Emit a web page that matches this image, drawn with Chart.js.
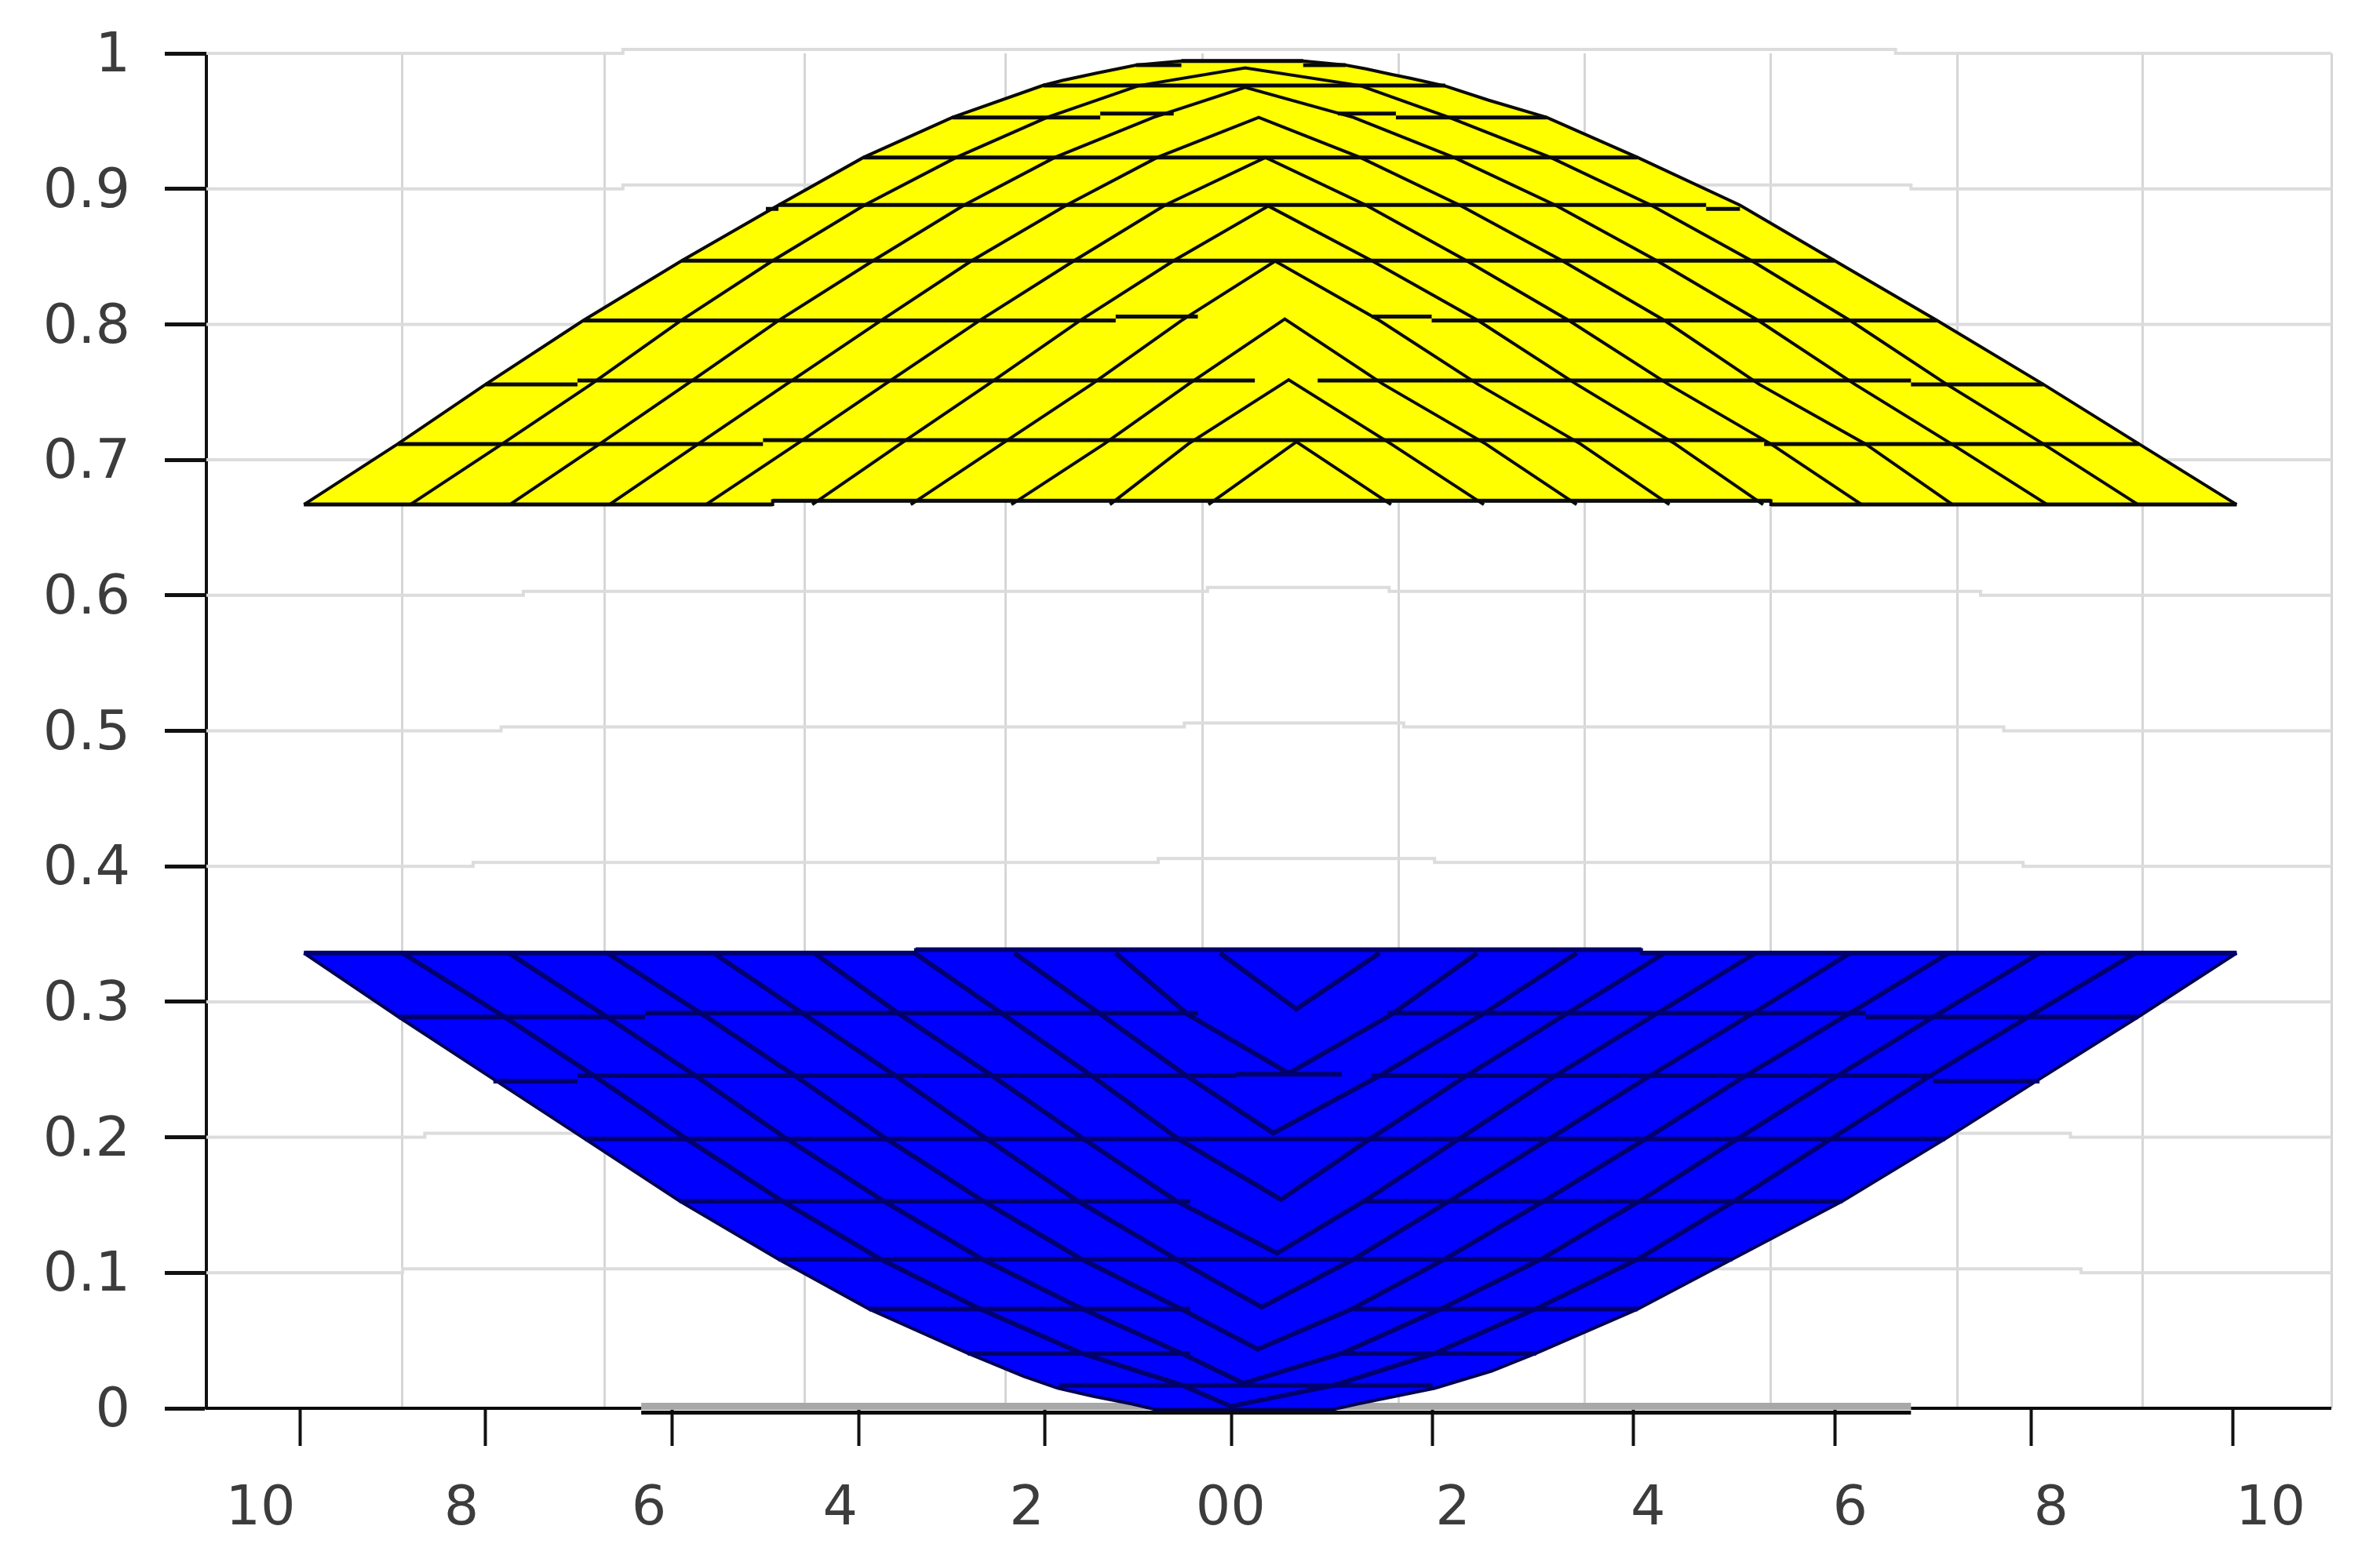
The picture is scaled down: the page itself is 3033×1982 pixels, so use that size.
<!DOCTYPE html>
<html>
<head>
<meta charset="utf-8">
<title>Surface mesh</title>
<script src="https://cdn.jsdelivr.net/npm/chart.js"></script>
<style>
  html, body { margin: 0; padding: 0; background: #fff; }
  canvas { display: block; }
</style>
</head>
<body>
<canvas id="chart" width="3033" height="1982"></canvas>
<script>
// Axes
const yTicks = [0, 0.1, 0.2, 0.3, 0.4, 0.5, 0.6, 0.7, 0.8, 0.9, 1];
const yTickLabels = ['0', '0.1', '0.2', '0.3', '0.4', '0.5', '0.6', '0.7', '0.8', '0.9', '1'];
const xGrid = [-8.98, -6.89, -4.82, -2.74, -0.70, 1.33, 3.25, 5.18, 7.11, 9.03, 10.98];
const xTicks = [-10.04, -8.12, -6.19, -4.26, -2.33, -0.40, 1.68, 3.76, 5.84, 7.87, 9.96];
const xLabelPos = [-10.45, -8.37, -6.43, -4.45, -2.52, -0.41, 1.89, 3.91, 6.0, 8.08, 10.35];
const xLabels = ['10', '8', '6', '4', '2', '00', '2', '4', '6', '8', '10'];

// Horizontal grid lines step up and back down where the picture is shifted
const gridY = [0.1, 0.2, 0.3, 0.4, 0.5, 0.6, 0.7, 0.8, 0.9, 1];
const gridBreaks = [
    [-8.98, 8.39], [-8.75, 8.28], [],
    [-8.25, -1.16, 1.70, 7.79], [-7.96, -0.89, 1.38, 7.59], [-7.73, -0.65, 1.23, 7.35],
    [], [], [-6.70, 6.63], [-6.70, 6.47],
];

// Yellow surface
const yellowOutline = [
    [-10, 0.667], [-9.03, 0.7117], [-8.12, 0.7557], [-7.11, 0.8028], [-6.09, 0.847], [-5.09, 0.888],
    [-4.21, 0.9232], [-3.29, 0.9527], [-2.35, 0.9764], [-2.15, 0.98], [-1.79, 0.9855], [-1.39, 0.9913],
    [-0.92, 0.9944], [0.34, 0.9944], [0.78, 0.9913], [0.99, 0.9886], [1.25, 0.9845], [1.45, 0.9816],
    [1.81, 0.9759], [2.26, 0.9654], [2.86, 0.9527], [3.80, 0.9232], [4.86, 0.888], [5.84, 0.847],
    [6.90, 0.8028], [8.0, 0.7557], [8.99, 0.7117], [10, 0.667],
];
const yellowBase = [[-10, 0.667], [-5.15, 0.667], [-5.15, 0.6698], [5.18, 0.6698], [5.18, 0.667], [10, 0.667]];
const yellowRows = [0.667, 0.7117, 0.7557, 0.8028, 0.847, 0.888, 0.9232, 0.9527, 0.9762];
// [y, from, to]
const yellowRowLines = [
    [0.667, -10, -5.15], [0.6698, -5.15, 5.18], [0.667, 5.18, 10],
    [0.7117, -9.03, -5.25], [0.7146, -5.25, 5.11], [0.7117, 5.11, 8.99],
    [0.7557, -8.12, -7.17], [0.7586, -7.17, -0.16], [0.7586, 0.49, 6.63], [0.7557, 6.63, 8.0],
    [0.8028, -7.11, -1.60], [0.8057, -1.60, -0.75], [0.8057, 1.05, 1.67], [0.8028, 1.67, 6.90],
    [0.847, -6.09, 5.84],
    [0.8852, -5.22, -5.09], [0.8881, -5.09, 4.51], [0.8852, 4.51, 4.86],
    [0.9232, -4.21, 3.80],
    [0.9527, -3.29, -1.76], [0.9556, -1.76, -1.0], [0.9556, 0.70, 1.30], [0.9527, 1.30, 2.86],
    [0.9762, -2.35, 1.81],
    [0.9913, -1.39, -0.92], [0.9944, -0.92, 0.34], [0.9913, 0.34, 0.78],
];
const yellowLeft = [
    [-0.64],
    [-1.66, -0.85],
    [-2.68, -1.72, -0.85],
    [-3.72, -2.78, -1.85, -0.92],
    [-4.74, -3.83, -2.92, -1.97, -1.0],
    [-5.84, -4.90, -3.99, -3.01, -2.03, -1.09],
    [-6.84, -5.92, -5.01, -4.03, -3.09, -2.11, -1.17],
    [-7.87, -6.94, -6.04, -5.09, -4.11, -3.17, -2.23, -1.21],
    [-8.90, -7.95, -7.03, -6.10, -5.15, -4.20, -3.25, -2.31, -1.36],
];
const yellowRight = [
    [1.25],
    [2.21, 1.25],
    [3.17, 2.23, 1.17],
    [4.13, 3.21, 2.15, 1.13],
    [5.10, 4.19, 3.17, 2.15, 1.05],
    [6.12, 5.18, 4.12, 3.09, 2.03, 0.99],
    [7.06, 6.16, 5.06, 4.08, 3.02, 1.96, 0.93],
    [8.04, 7.05, 6.05, 5.05, 4.0, 2.95, 1.90, 0.86],
    [8.98, 8.0, 7.0, 6.0, 4.98, 3.94, 2.90, 1.85, 0.93],
];
const yellowTips = [
    [0.27, 0.7133], [0.19, 0.7591], [0.15, 0.8039], [0.05, 0.8467], [-0.02, 0.8873],
    [-0.05, 0.9232], [-0.12, 0.9527], [-0.26, 0.9749], [-0.26, 0.9893],
];

// Blue surface
const blueOutline = [
    [-10, 0.336], [-9.02, 0.2888], [-8.04, 0.243], [-7.09, 0.1987], [-6.11, 0.1529], [-5.09, 0.11],
    [-4.15, 0.0732], [-3.13, 0.0406], [-2.55, 0.0235], [-2.2, 0.0148], [-1.84, 0.009], [-1.43, 0.0032],
    [-1.19, -0.0008], [0.65, -0.0008], [0.9, 0.0032], [1.3, 0.009], [1.7, 0.0148], [2.29, 0.0275],
    [2.75, 0.0406], [3.80, 0.0732], [4.78, 0.11], [5.92, 0.1529], [6.98, 0.1987], [7.96, 0.243],
    [8.98, 0.2888], [10, 0.336],
];
const blueBase = [[-10, 0.336], [-3.67, 0.336], [-3.67, 0.3384], [3.84, 0.3384], [3.84, 0.336], [10, 0.336]];
const blueRows = [0.336, 0.2905, 0.2455, 0.1987, 0.1529, 0.11, 0.0732, 0.0406, 0.017];
const blueRowLines = [
    [0.336, -10, -3.67], [0.3384, -3.67, 3.84], [0.336, 3.84, 10],
    [0.2888, -9.02, -6.47], [0.2917, -6.47, -0.75], [0.2917, 1.21, 6.16], [0.2888, 6.16, 8.98],
    [0.2414, -8.04, -7.17], [0.2455, -7.17, -0.35], [0.2465, -0.36, 0.74], [0.2455, 1.05, 6.86], [0.2414, 6.86, 7.96],
    [0.1987, -7.09, 6.98],
    [0.1529, -6.11, -0.83], [0.1529, 0.94, 5.92],
    [0.11, -5.09, 4.78],
    [0.0732, -4.15, -0.83], [0.0732, 0.86, 3.80],
    [0.0406, -3.13, -0.83], [0.0406, 0.70, 2.75],
    [0.017, -2.19, 1.68],
];
const blueLeft = [
    [-0.52],
    [-1.60, -0.85],
    [-2.65, -1.75, -0.87],
    [-3.68, -2.76, -1.85, -0.95],
    [-4.72, -3.83, -2.88, -1.93, -0.97],
    [-5.76, -4.82, -3.88, -2.93, -1.99, -0.97],
    [-6.86, -5.87, -4.92, -3.97, -2.97, -1.95, -0.92],
    [-7.88, -6.90, -5.95, -5.0, -4.0, -2.98, -1.94, -0.92],
    [-8.98, -7.96, -7.0, -6.04, -5.05, -4.03, -3.0, -1.95, -0.91],
];
const blueRight = [
    [1.13],
    [2.14, 1.25],
    [3.17, 2.19, 1.13],
    [4.08, 3.05, 2.03, 1.03],
    [5.02, 3.98, 2.95, 1.95, 0.97],
    [6.0, 4.97, 3.93, 2.88, 1.85, 0.86],
    [7.02, 5.97, 4.92, 3.88, 2.83, 1.80, 0.84],
    [7.96, 6.90, 5.87, 4.83, 3.82, 2.80, 1.76, 0.74],
    [8.95, 7.88, 6.83, 5.80, 4.80, 3.80, 2.74, 1.70, 0.66],
];
const blueTips = [
    [0.27, 0.2947], [0.19, 0.2473], [0.03, 0.2031], [0.11, 0.1541], [0.07, 0.1145],
    [-0.09, 0.0746], [-0.13, 0.0436], [-0.28, 0.0185], [-0.41, 0.0015],
];

// Bottom axis line, shifted down in the middle with a grey band above it
const axisLeftEnd = -6.51;
const axisRightStart = 6.63;
const axisLower = -0.0032;
const axisBand = 0.0015;

const xMin = -11.01;
const xMax = 10.98;

const inkBlack = '#0a0a0a';
const inkNavy = '#00006e';
const textColor = '#3c3c3c';
const labelFont = { family: "'DejaVu Sans', sans-serif", size: 70 };

const datasets = [];

function toPoints(list) {
    return list.map(p => ({ x: p[0], y: p[1] }));
}

function addLine(points, color, width, order) {
    datasets.push({
        data: points,
        borderColor: color,
        borderWidth: width,
        order: order,
        showLine: true,
        pointRadius: 0,
        fill: false,
        clip: false,
    });
}

// Fill between the outline and its flat edge
function addSurface(outline, base, fillColor, lineColor, lineWidth) {
    const baseIndex = datasets.length + 1;
    datasets.push({
        data: toPoints(outline),
        borderColor: lineColor,
        borderWidth: lineWidth,
        backgroundColor: fillColor,
        fill: baseIndex,
        order: 30,
        showLine: true,
        pointRadius: 0,
        clip: false,
    });
    addLine(toPoints(base), lineColor, lineWidth, 29);
}

function addMesh(rowLines, rows, left, right, tips, color, rowWidth, diagWidth) {
    rowLines.forEach(r => {
        addLine([{ x: r[1], y: r[0] }, { x: r[2], y: r[0] }], color, rowWidth, 10);
    });
    tips.forEach((tip, i) => {
        const up = left[i].map((x, k) => ({ x: x, y: rows[k] }));
        const down = right[i].map((x, k) => ({ x: x, y: rows[k] })).reverse();
        addLine([...up, { x: tip[0], y: tip[1] }, ...down], color, diagWidth, 11);
    });
}

gridY.forEach((y, i) => {
    const breaks = gridBreaks[i];
    const step = 0.0029;
    const pts = [];
    let level = 0;
    pts.push({ x: xMin, y: y });
    breaks.forEach((b, k) => {
        pts.push({ x: b, y: y + level * step });
        level += k < breaks.length / 2 ? 1 : -1;
        pts.push({ x: b, y: y + level * step });
    });
    pts.push({ x: xMax, y: y });
    addLine(pts, '#dcdcdc', 4, 60);
});

addLine([{ x: axisLeftEnd, y: axisBand }, { x: axisRightStart, y: axisBand }], '#a8a8a8', 9, 55);
addLine([{ x: xMin - 0.01, y: 0 }, { x: axisLeftEnd, y: 0 }], inkBlack, 4, 50);
addLine([{ x: axisLeftEnd, y: axisLower }, { x: axisRightStart, y: axisLower }], inkBlack, 5, 50);
addLine([{ x: axisRightStart, y: 0 }, { x: xMax, y: 0 }], inkBlack, 4, 50);

addSurface(yellowOutline, yellowBase, '#ffff00', inkBlack, 4);
addMesh(yellowRowLines, yellowRows, yellowLeft, yellowRight, yellowTips, inkBlack, 5, 4);
addSurface(blueOutline, blueBase, '#0000ff', '#000050', 4);
addMesh(blueRowLines, blueRows, blueLeft, blueRight, blueTips, inkNavy, 6, 6);

function useTicks(values) {
    return axis => { axis.ticks = values.map(v => ({ value: v })); };
}

new Chart(document.getElementById('chart'), {
    type: 'scatter',
    data: { datasets: datasets },
    options: {
        responsive: false,
        devicePixelRatio: 1,
        animation: false,
        layout: { padding: { top: 68, right: 62, left: 0, bottom: 0 } },
        plugins: {
            legend: { display: false },
            tooltip: { enabled: false },
        },
        elements: { line: { tension: 0 } },
        scales: {
            y: {
                min: 0,
                max: 1,
                afterBuildTicks: useTicks(yTicks),
                afterFit: axis => {
                    axis.width = 263;
                    axis.paddingTop = 0;
                    axis.paddingBottom = 0;
                },
                border: { color: '#111', width: 4 },
                grid: { drawOnChartArea: false, tickLength: 53, tickColor: '#111', tickWidth: 5 },
                ticks: {
                    padding: 44,
                    labelOffset: 5,
                    color: textColor,
                    font: labelFont,
                    autoSkip: false,
                    callback: (v, i) => yTickLabels[i],
                },
            },
            x: {
                type: 'linear',
                min: xMin,
                max: xMax,
                weight: 0,
                afterBuildTicks: useTicks(xGrid),
                afterFit: axis => { axis.height = 0; },
                border: { display: false },
                grid: { color: '#d6d6d6', lineWidth: 3, drawTicks: false },
                ticks: { display: false },
            },
            xt: {
                type: 'linear',
                position: 'bottom',
                min: xMin,
                max: xMax,
                weight: 1,
                afterBuildTicks: useTicks(xTicks),
                afterFit: axis => { axis.height = 48; },
                border: { display: false },
                grid: { drawOnChartArea: false, tickLength: 48, tickColor: '#111', tickWidth: 4 },
                ticks: { display: false },
            },
            xl: {
                type: 'linear',
                position: 'bottom',
                min: xMin,
                max: xMax,
                weight: 2,
                afterBuildTicks: useTicks(xLabelPos),
                afterFit: axis => { axis.height = 139; },
                border: { display: false },
                grid: { display: false, drawTicks: false },
                ticks: {
                    padding: 40,
                    maxRotation: 0,
                    autoSkip: false,
                    color: textColor,
                    font: labelFont,
                    callback: (v, i) => xLabels[i],
                },
            },
        },
    },
});
</script>
</body>
</html>
